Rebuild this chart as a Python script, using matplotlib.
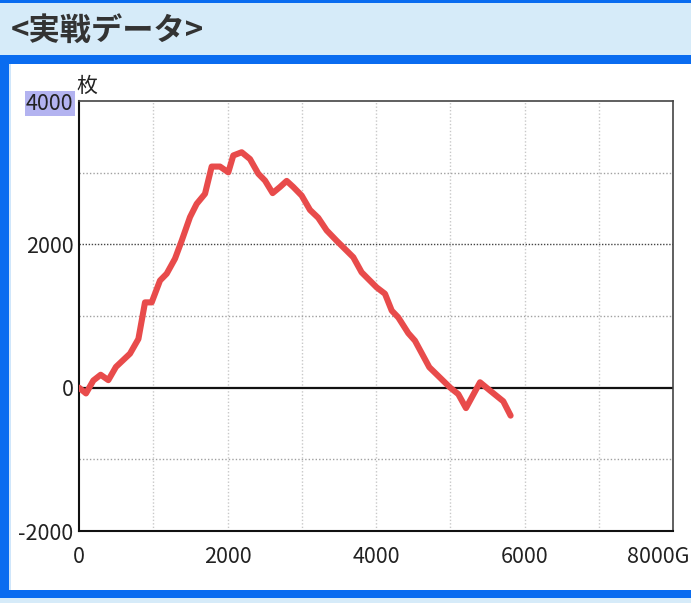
import matplotlib
matplotlib.use("Agg")
import matplotlib.pyplot as plt
from matplotlib.patches import Rectangle

plt.rcParams['font.family'] = ['Noto Sans CJK JP', 'DejaVu Sans']

# games played vs medal difference
games = [0, 94, 193, 292, 395, 498, 687, 800, 889, 979, 1091, 1181, 1293, 1383,
         1495, 1585, 1697, 1787, 1899, 2011, 2078, 2191, 2303, 2415, 2505, 2608,
         2707, 2797, 2886, 2999, 3111, 3222, 3335, 3470, 3694, 3806, 4008, 4121,
         4212, 4300, 4435, 4525, 4718, 5000, 5108, 5212, 5401, 5535, 5714, 5813]
medals = [0, -80, 100, 180, 105, 290, 475, 680, 1190, 1190, 1495, 1590, 1800, 2050,
          2380, 2565, 2705, 3085, 3085, 3005, 3240, 3285, 3190, 2985, 2890, 2715,
          2800, 2885, 2800, 2680, 2480, 2370, 2195, 2050, 1820, 1610, 1400, 1310,
          1075, 980, 760, 655, 285, 0, -90, -285, 75, -40, -190, -390]

x_ticks = [0, 2000, 4000, 6000]
x_labels = ["0", "2000", "4000", "6000"]
last_x_label = "8000G"
y_ticks = [-2000, 0, 2000, 4000]
y_labels = ["-2000", "0", "2000", "4000"]

W, H = 691, 603
fig = plt.figure(figsize=(W / 100, H / 100), dpi=100)
fig.patch.set_facecolor("white")

def px_rect(x0, y0, x1, y1, color):
	fig.patches.append(Rectangle((x0 / W, 1 - y1 / H), (x1 - x0) / W, (y1 - y0) / H,
		transform=fig.transFigure, facecolor=color, edgecolor="none", zorder=0))

# page frame
px_rect(0, 0, W, 3, "#0a6cf0")
px_rect(0, 3, W, 55, "#d6ebf9")
px_rect(0, 55, W, 64, "#0a6cf0")
px_rect(0, 64, 9, 598, "#0a6cf0")
px_rect(9, 64, 11, 590, "#cfe6fb")
px_rect(0, 590, W, 598, "#0a6cf0")
px_rect(0, 598, W, H, "#d6ebf9")

fig.text(11 / W, 1 - 31 / H, "<実戦データ>", fontsize=22.5, fontweight="bold",
	color="#333333", va="center", ha="left")

ax = fig.add_axes([79 / W, 1 - 531 / H, (673 - 79) / W, (531 - 101) / H])
ax.set_xlim(0, 8000)
ax.set_ylim(-2000, 4000)

# grid
for gx in range(1000, 8000, 1000):
	ax.axvline(gx, color="#c8c8c8", lw=1, ls=(0, (1, 1.5)), zorder=1)
for gy in [-1000, 1000, 3000]:
	ax.axhline(gy, color="#a0a0a0", lw=1, ls=(0, (1, 1.5)), zorder=1)
ax.axhline(2000, color="#444444", lw=1, ls=(0, (1, 1.2)), zorder=1)
ax.axhline(0, color="#111111", lw=1.6, zorder=2)

ax.plot(games, medals, color="#e84b4b", lw=4.4, solid_joinstyle="round",
	solid_capstyle="round", zorder=3)

ax.set_xticks(x_ticks)
ax.set_xticklabels(x_labels)
ax.set_yticks(y_ticks)
ax.set_yticklabels(y_labels)
ax.tick_params(length=0, labelsize=15.5, colors="#222222")
ax.tick_params(axis="x", pad=11)
ax.tick_params(axis="y", pad=4)

for side in ["left", "bottom"]:
	ax.spines[side].set_color("#111111")
	ax.spines[side].set_linewidth(1.5)
for side in ["top", "right"]:
	ax.spines[side].set_color("#444444")
	ax.spines[side].set_linewidth(1.2)

top_label = ax.get_yticklabels()[-1]
top_label.set_bbox(dict(facecolor="#b3b3f0", edgecolor="none", pad=1))

# last x label runs up to the right edge
fig.text(690 / W, 1 - 557 / H, last_x_label, fontsize=15.5, color="#222222",
	va="center", ha="right")

fig.text(76 / W, 1 - 86 / H, "枚", fontsize=15, color="#222222", va="center", ha="left")

fig.savefig("out.png", dpi=100)
